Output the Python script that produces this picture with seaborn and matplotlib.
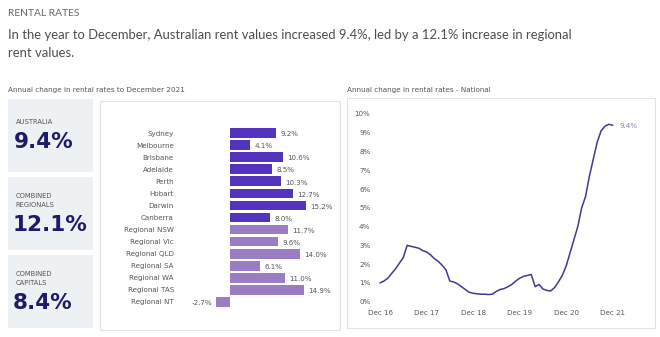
import matplotlib
matplotlib.use("Agg")
import matplotlib.pyplot as plt
import seaborn as sns
import pandas as pd
from matplotlib.patches import Rectangle

# ---------------- data ----------------
regions = ["Sydney", "Melbourne", "Brisbane", "Adelaide", "Perth", "Hobart", "Darwin",
           "Canberra", "Regional NSW", "Regional Vic", "Regional QLD", "Regional SA",
           "Regional WA", "Regional TAS", "Regional NT"]
region_change = [9.2, 4.1, 10.6, 8.5, 10.3, 12.7, 15.2, 8.0, 11.7, 9.6, 14.0, 6.1, 11.0, 14.9, -2.7]
region_group = ["Capital"] * 8 + ["Regional"] * 7

stat_labels = ["AUSTRALIA", "COMBINED\nREGIONALS", "COMBINED\nCAPITALS"]
stat_values = ["9.4%", "12.1%", "8.4%"]

# monthly national annual change, Dec 2016 .. Dec 2021
national = [1.0, 1.1, 1.25, 1.5, 1.75, 2.05, 2.35, 3.0, 2.95, 2.9, 2.85, 2.72, 2.65,
            2.5, 2.3, 2.15, 1.95, 1.7, 1.1, 1.05, 0.95, 0.8, 0.65, 0.5, 0.45,
            0.42, 0.40, 0.40, 0.38, 0.40, 0.55, 0.65, 0.70, 0.80, 0.92, 1.1, 1.25,
            1.35, 1.4, 1.45, 0.8, 0.92, 0.68, 0.6, 0.57, 0.75, 1.05, 1.4, 1.9,
            2.6, 3.3, 4.0, 5.0, 5.6, 6.7, 7.6, 8.5, 9.1, 9.35, 9.45, 9.4]
x_tick_labels = ["Dec 16", "Dec 17", "Dec 18", "Dec 19", "Dec 20", "Dec 21"]
y_tick_labels = ["0%", "1%", "2%", "3%", "4%", "5%", "6%", "7%", "8%", "9%", "10%"]

# ---------------- style ----------------
sns.set_theme(style="white")
plt.rcParams["font.family"] = ["DejaVu Sans"]

W, H = 660, 337
fig = plt.figure(figsize=(W / 100, H / 100), dpi=100)
fig.patch.set_facecolor("white")


def ax_px(l, t, r, b):
    a = fig.add_axes([l / W, 1 - b / H, (r - l) / W, (b - t) / H])
    a.set_zorder(5)
    return a


def rect_px(l, t, r, b, fc, ec="none", lw=0):
    fig.patches.append(Rectangle((l / W, 1 - b / H), (r - l) / W, (b - t) / H,
                                 transform=fig.transFigure, facecolor=fc,
                                 edgecolor=ec, linewidth=lw, zorder=-1))


def txt(x, y, s, **kw):
    fig.text(x / W, 1 - y / H, s, **kw)


# header
txt(7.5, 13, "RENTAL RATES", fontsize=7.4, color="#666666", va="center",
    family=["Lato", "DejaVu Sans"])
txt(7.5, 39, "In the year to December, Australian rent values increased 9.4%, led by a 12.1% increase in regional",
    fontsize=9.4, color="#4d4d4d", va="baseline", family=["Lato", "DejaVu Sans"])
txt(7.5, 57.3, "rent values.", fontsize=9.4, color="#4d4d4d", va="baseline",
    family=["Lato", "DejaVu Sans"])

txt(7.5, 90, "Annual change in rental rates to December 2021", fontsize=5.2,
    color="#555555", va="center")
txt(347, 90, "Annual change in rental rates - National", fontsize=5.2,
    color="#555555", va="center")

# stat boxes
box_tops = [99, 177, 255]
for top, lab, val in zip(box_tops, stat_labels, stat_values):
    rect_px(8.3, top, 92.7, top + 73.3, "#edf1f4")
    nlines = lab.count("\n") + 1
    if nlines == 1:
        txt(15.5, top + 23, lab, fontsize=4.9, color="#555555", va="center")
        txt(13.5, top + 43, val, fontsize=15.5, color="#1e1b6b", va="center",
            fontweight="bold")
    else:
        txt(15.5, top + 23.5, lab, fontsize=4.9, color="#555555", va="center",
            linespacing=1.45)
        txt(12.5, top + 48, val, fontsize=15.5, color="#1e1b6b", va="center",
            fontweight="bold")

# panels
rect_px(99.5, 101, 340, 330, "white", "#e2e2e2", 0.8)
rect_px(346.7, 98.3, 655, 328, "white", "#e2e2e2", 0.8)

# ---------------- bar chart ----------------
df = pd.DataFrame({"region": regions, "change": region_change, "group": region_group})
axb = ax_px(204.5, 133.3 - 6.015, 329.5, 301.7 + 6.015)
sns.barplot(data=df, x="change", y="region", hue="group", dodge=False,
            palette={"Capital": "#5433bf", "Regional": "#9a7dc5"},
            width=0.82, legend=False, ax=axb, saturation=1,
            edgecolor="none")
axb.set_xlim(-5, 20)
axb.set_ylim(len(regions) - 0.5, -0.5)
axb.set_xlabel("")
axb.set_ylabel("")
axb.set_xticks([])
axb.tick_params(axis="y", length=0, pad=22, labelsize=5.1, labelcolor="#555555")
for s in axb.spines.values():
    s.set_visible(False)
axb.patch.set_alpha(0)
for i, v in enumerate(region_change):
    if v >= 0:
        axb.annotate(f"{v:.1f}%", (v, i), xytext=(3.3, -0.8), textcoords="offset points",
                     ha="left", va="center", fontsize=5.1, color="#555555")
    else:
        axb.annotate(f"{v:.1f}%", (v, i), xytext=(-2.6, -0.8), textcoords="offset points",
                     ha="right", va="center", fontsize=5.1, color="#555555")

# ---------------- line chart ----------------
ln = pd.DataFrame({"month": range(len(national)), "value": national})
axl = ax_px(380, 114, 612.7, 301.7)
sns.lineplot(data=ln, x="month", y="value", color="#3b3b90", linewidth=1.1, ax=axl)
axl.set_xlim(0, 60)
axl.set_ylim(0, 10)
axl.set_xticks(range(0, 61, 12))
axl.set_xticklabels(x_tick_labels)
axl.set_yticks(range(0, 11))
axl.set_yticklabels(y_tick_labels)
axl.set_xlabel("")
axl.set_ylabel("")
axl.tick_params(axis="both", length=0, labelsize=5.1, labelcolor="#555555")
axl.tick_params(axis="y", pad=7.0)
axl.tick_params(axis="x", pad=6.0)
for s in axl.spines.values():
    s.set_visible(False)
axl.patch.set_alpha(0)
for line in axl.get_lines():
    line.set_clip_on(False)
axl.annotate(f"{national[-1]:.1f}%", (len(national) - 1, national[-1]),
             xytext=(4.6, -0.2), textcoords="offset points", ha="left", va="center",
             fontsize=5.1, color="#8a80b4")

fig.savefig("out.png", dpi=100, facecolor="white")
